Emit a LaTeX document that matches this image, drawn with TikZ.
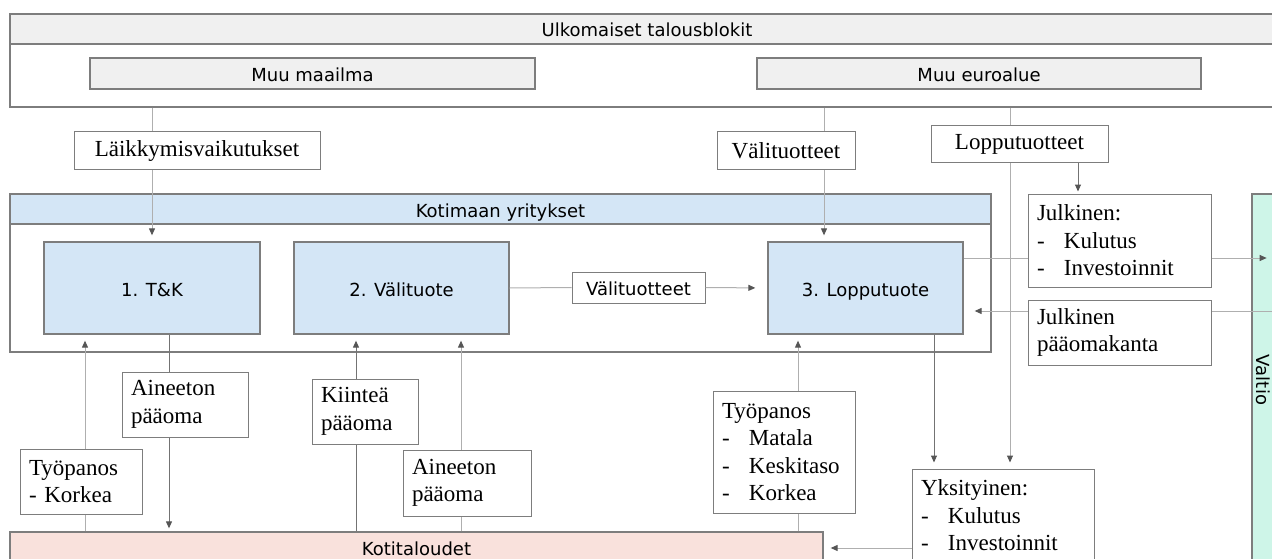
\documentclass[tikz,border=0pt]{standalone}
\usepackage{fontspec}
\setmainfont{Liberation Serif}
\newfontfamily\boxfont{DejaVu Sans}
\usetikzlibrary{arrows.meta, positioning}
\definecolor{bordergray}{RGB}{125,125,125}
\definecolor{hdrgray}{RGB}{240,240,240}
\definecolor{firmblue}{RGB}{212,230,246}
\definecolor{homepink}{RGB}{249,225,220}
\definecolor{statemint}{RGB}{206,245,232}
\definecolor{linegray}{RGB}{175,175,175}
\definecolor{linedark}{RGB}{115,115,115}
\definecolor{tipgray}{RGB}{85,85,85}
\newcommand{\dashitem}{\makebox[27pt][l]{-}}

\begin{document}
\begin{tikzpicture}[x=1pt, y=-1pt]
    \tikzstyle{frame} = [draw=bordergray, line width=1.3pt, inner sep=0pt]
    \tikzstyle{sect}  = [frame, font=\boxfont\fontsize{18}{21}\selectfont,
                         text height=16pt, text depth=0pt]
    \tikzstyle{hdr}   = [sect, fill=hdrgray]
    \tikzstyle{firm}  = [sect, fill=firmblue]
    \tikzstyle{flow}  = [frame, line width=1pt, fill=white, inner xsep=9pt,
                         align=left, font=\fontsize{23}{27.5}\selectfont]
    \tikzstyle{line}  = [linegray, line width=1pt]
    \tikzstyle{arr}   = [line, shorten >=6pt,
                         -{Triangle[length=7pt, width=6pt, color=tipgray]}]

    \useasboundingbox (0,0) rectangle (1272,559);
    \clip (0,0) rectangle (1272,559);

    %% Foreign blocks (top)
    \node[sect, minimum width=1274, minimum height=93] (ulko) at (647,60.5) {};
    \node[hdr, minimum width=1274, minimum height=30] (ulkohdr) at (647,29)
      {Ulkomaiset talousblokit};
    \node[hdr, minimum width=445, minimum height=31] (muum) at (312.5,73.5) {Muu maailma};
    \node[hdr, minimum width=444, minimum height=31] (muue) at (979,73.5) {Muu euroalue};

    %% Domestic firms
    \node[sect, minimum width=981, minimum height=158] (koti) at (500.5,273) {};
    \node[firm, minimum width=981, minimum height=30] (kotihdr) at (500.5,209)
      {Kotimaan yritykset};
    \node[firm, minimum width=216, minimum height=92] (tk)         at (152,288)   {1. T\&K};
    \node[firm, minimum width=215, minimum height=92] (vtuote)     at (401.5,288) {2. Välituote};
    \node[firm, minimum width=195, minimum height=92] (lopputuote) at (865.5,288) {3. Lopputuote};
    \node[sect, fill=white, line width=1pt, minimum width=133, minimum height=31]
      (vtmid) at (638.5,287.5) {Välituotteet};

    %% Households and state
    \node[sect, fill=homepink, text depth=6pt, minimum width=813, minimum height=36]
      (kotit) at (416.5,550) {Kotitaloudet};
    \node[sect, fill=statemint, minimum width=372, minimum height=24, rotate=-90]
      (valtio) at (1264,380) {Valtio};

    %% Flow labels
    \node[flow, minimum width=246, minimum height=38] (laik) at (197,151) {Läikkymisvaikutukset};
    \node[flow, minimum width=138, minimum height=38] (vtyl) at (786,151) {Välituotteet};
    \node[flow, minimum width=177, minimum height=37] (lopt) at (1019.5,144.5) {Lopputuotteet};
    \node[flow, text width=165, minimum height=93] (julk) at (1119.5,240.5)
      {Julkinen:\\\dashitem Kulutus\\\dashitem Investoinnit};
    \node[flow, text width=165, minimum height=65] (jpk) at (1119.5,332.5)
      {Julkinen\\pääomakanta};
    \node[flow, text width=104, minimum height=65] (tyo1) at (81,481.5)  {Työpanos\\- Korkea};
    \node[flow, text width=108, minimum height=65] (ain1) at (185,404.5) {Aineeton\\pääoma};
    \node[flow, text width=88,  minimum height=65] (kiin) at (365,411.5) {Kiinteä\\pääoma};
    \node[flow, text width=110, minimum height=66] (ain2) at (467,483)   {Aineeton\\pääoma};
    \node[flow, text width=124, minimum height=122] (tyo2) at (784,452)
      {Työpanos\\\dashitem Matala\\\dashitem Keskitaso\\\dashitem Korkea};
    \node[flow, text width=164, minimum height=93] (yks) at (1003,515.5)
      {Yksityinen:\\\dashitem Kulutus\\\dashitem Investoinnit};

    %% Connector columns / rows
    \coordinate (xvt)  at (824,0);
    \coordinate (xlp)  at (1010,0);
    \coordinate (xjl)  at (1078,0);
    \coordinate (xtp)  at (85,0);
    \coordinate (xai)  at (169,0);
    \coordinate (xki)  at (356,0);
    \coordinate (xai2) at (461,0);
    \coordinate (xty)  at (798,0);
    \coordinate (xyk)  at (934,0);
    \coordinate (yjl)  at (0,258);
    \coordinate (yjp)  at (0,311);
    \coordinate (ykt)  at (0,548);

    %% ── From abroad ───────────────────────────────────────────
    \draw[line] (ulko.south -| tk) -- (laik.north -| tk);
    \draw[arr]  (laik.south -| tk) -- (tk.north);
    \draw[line] (ulko.south -| xvt) -- (vtyl.north -| xvt);
    \draw[arr]  (vtyl.south -| xvt) -- (lopputuote.north -| xvt);
    \draw[line] (ulko.south -| xlp) -- (lopt.north -| xlp);
    \draw[arr]  (lopt.south -| xlp) -- (yks.north -| xlp);
    \draw[arr, linedark, shorten >=2pt] (lopt.south -| xjl) -- (julk.north -| xjl);

    %% ── Between firms and state ───────────────────────────────
    \draw[line] (vtuote.east) -- (vtmid.west);
    \draw[arr, shorten >=12pt] (vtmid.east) -- (lopputuote.west);
    \draw[line] (lopputuote.east |- yjl) -- (julk.west |- yjl);
    \draw[arr, shorten >=10pt] (julk.east |- yjl) -- (valtio.north |- yjl);
    \draw[line] (valtio.north |- yjp) -- (jpk.east |- yjp);
    \draw[arr, shorten >=11pt] (jpk.west |- yjp) -- (lopputuote.east |- yjp);

    %% ── Households ↔ firms ────────────────────────────────────
    \draw[line] (kotit.north -| xtp) -- (tyo1.south -| xtp);
    \draw[arr]  (tyo1.north -| xtp) -- (tk.south -| xtp);
    \draw[line, linedark] (tk.south -| xai) -- (ain1.north -| xai);
    \draw[arr, linedark, shorten >=3pt] (ain1.south -| xai) -- (kotit.north -| xai);
    \draw[line, linedark] (kotit.north -| xki) -- (kiin.south -| xki);
    \draw[arr, linedark] (kiin.north -| xki) -- (vtuote.south -| xki);
    \draw[line] (kotit.north -| xai2) -- (ain2.south -| xai2);
    \draw[arr]  (ain2.north -| xai2) -- (vtuote.south -| xai2);
    \draw[line] (kotit.north -| xty) -- (tyo2.south -| xty);
    \draw[arr]  (tyo2.north -| xty) -- (lopputuote.south -| xty);
    \draw[arr, linedark] (lopputuote.south -| xyk) -- (yks.north -| xyk);
    \draw[arr, shorten >=7pt] (yks.west |- ykt) -- (kotit.east |- ykt);
\end{tikzpicture}
\end{document}
